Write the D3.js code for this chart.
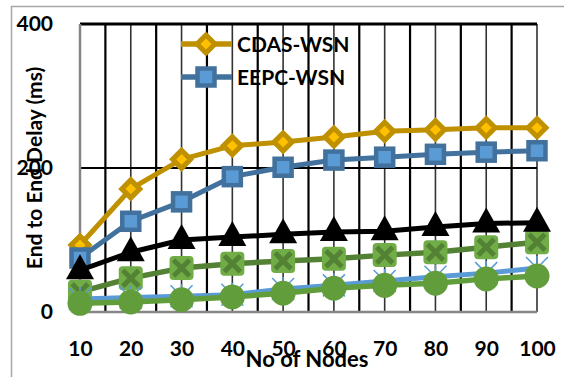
<!DOCTYPE html>
<html>
<head>
<meta charset="utf-8">
<script src="https://cdn.jsdelivr.net/npm/d3@7"></script>
<style>
    body { margin: 0; background: #fff; }
    text { font-family: Lato, "Open Sans", sans-serif; font-weight: bold; fill: #000; }
</style>
</head>
<body>
<div id="chart"></div>
<script>
const nodes = [10, 20, 30, 40, 50, 60, 70, 80, 90, 100];
const yTicks = [0, 200, 400];
const cdasWsn = [93, 171, 212, 231, 236, 243, 251, 253, 256, 256];
const eepcWsn = [75, 126, 153, 188, 201, 211, 215, 219, 222, 224];
const triangleSeries = [58, 83, 100, 104, 108, 111, 112, 118, 123, 124];
const crossSeries = [28, 47, 61, 67, 71, 74, 79, 83, 90, 97];
const starSeries = [18, 20, 22, 24, 32, 37, 43, 49, 54, 61];
const circleSeries = [12, 14, 17, 21, 26, 33, 37, 40, 46, 50];
const legendNames = ["CDAS-WSN", "EEPC-WSN"];

const W = 564, H = 377;
const margin = {top: 24, right: 27, bottom: 65, left: 80},
    width = W - margin.left - margin.right,
    height = H - margin.top - margin.bottom;

const svg = d3.select("#chart").append("svg")
    .attr("width", W)
    .attr("height", H);

// outer chart border (runs off the picture on the right and bottom)
svg.append("rect")
    .attr("x", 11.5).attr("y", 6.5)
    .attr("width", 600).attr("height", 400)
    .attr("fill", "none")
    .attr("stroke", "#a6a6a6")
    .attr("stroke-width", 1.5);

const g = svg.append("g")
    .attr("transform", "translate(" + margin.left + "," + margin.top + ")");

const x = d3.scaleLinear()
    .domain([10, 100])
    .range([0, width]);

const y = d3.scaleLinear()
    .domain([0, 400])
    .range([height, 0]);

// vertical grid, every 5 nodes
const gridX = d3.range(15, 101, 5);
g.selectAll(".vgrid")
    .data(gridX)
    .join("line")
    .attr("class", "vgrid")
    .attr("x1", d => x(d)).attr("x2", d => x(d))
    .attr("y1", 0).attr("y2", height)
    .attr("stroke", d => d % 10 === 0 ? "#333" : "#000")
    .attr("stroke-width", d => d % 10 === 0 ? 1.6 : 2.2);

// horizontal grid
g.selectAll(".hgrid")
    .data(yTicks.filter(d => d > 0))
    .join("line")
    .attr("class", "hgrid")
    .attr("x1", 0).attr("x2", width)
    .attr("y1", d => y(d)).attr("y2", d => y(d))
    .attr("stroke", "#000")
    .attr("stroke-width", d => d === 400 ? 3 : 2);

// axes lines (gray)
g.append("line")
    .attr("x1", 0).attr("x2", 0)
    .attr("y1", y(400)).attr("y2", height)
    .attr("stroke", "#868686").attr("stroke-width", 2.5);
g.append("line")
    .attr("x1", 0).attr("x2", width)
    .attr("y1", height).attr("y2", height)
    .attr("stroke", "#868686").attr("stroke-width", 2.5);

// tick labels
const xAxis = g.append("g")
    .attr("transform", "translate(0," + height + ")")
    .call(d3.axisBottom(x).tickValues(nodes).tickSize(0).tickPadding(29));
xAxis.select(".domain").remove();
xAxis.selectAll("text")
    .attr("font-size", 21)
    .attr("font-family", null);

const yAxis = g.append("g")
    .call(d3.axisLeft(y).tickValues(yTicks).tickSize(0).tickPadding(27));
yAxis.select(".domain").remove();
yAxis.selectAll("text")
    .attr("font-size", 21)
    .attr("font-family", null);

// axis titles
svg.append("text")
    .attr("x", 307).attr("y", 367)
    .attr("text-anchor", "middle")
    .attr("font-size", 22)
    .text("No of Nodes");

svg.append("text")
    .attr("transform", "translate(42,168) rotate(-90)")
    .attr("text-anchor", "middle")
    .attr("font-size", 21)
    .text("End to End Delay (ms)");

// series
const line = d3.line()
    .x((d, i) => x(nodes[i]))
    .y(d => y(d));

const drawLine = (data, color, w) => {
    g.append("path")
        .datum(data)
        .attr("fill", "none")
        .attr("stroke", color)
        .attr("stroke-width", w)
        .attr("stroke-linejoin", "round")
        .attr("d", line);
};

const diamond = (sel, cx, cy) => {
    sel.append("path")
        .attr("d", `M${cx},${cy - 9} L${cx + 9},${cy} L${cx},${cy + 9} L${cx - 9},${cy} Z`)
        .attr("fill", "#ffc000")
        .attr("stroke", "#bf9000")
        .attr("stroke-width", 5);
};
const square = (sel, cx, cy) => {
    sel.append("rect")
        .attr("x", cx - 8.5).attr("y", cy - 8.5)
        .attr("width", 17).attr("height", 17)
        .attr("fill", "#5b9bd5")
        .attr("stroke", "#41719c")
        .attr("stroke-width", 4.5);
};
const triangle = (sel, cx, cy) => {
    sel.append("path")
        .attr("d", `M${cx},${cy - 16} L${cx + 14},${cy + 9} L${cx - 14},${cy + 9} Z`)
        .attr("fill", "#000");
};
const crossBox = (sel, cx, cy) => {
    sel.append("rect")
        .attr("x", cx - 12).attr("y", cy - 12)
        .attr("width", 24).attr("height", 24)
        .attr("rx", 4)
        .attr("fill", "#70ad47");
    sel.append("path")
        .attr("d", `M${cx - 8},${cy - 8} L${cx + 8},${cy + 8} M${cx + 8},${cy - 8} L${cx - 8},${cy + 8}`)
        .attr("stroke", "#548235")
        .attr("stroke-width", 5);
};
const star = (sel, cx, cy) => {
    sel.append("path")
        .attr("d", `M${cx - 11},${cy - 11} L${cx + 11},${cy + 11} M${cx + 11},${cy - 11} L${cx - 11},${cy + 11} M${cx},${cy - 12} L${cx},${cy + 12}`)
        .attr("stroke", "#5b9bd5")
        .attr("stroke-width", 1.5);
};
const circle = (sel, cx, cy) => {
    sel.append("circle")
        .attr("cx", cx).attr("cy", cy)
        .attr("r", 12.5)
        .attr("fill", "#629d3c");
};

const series = [
    {data: cdasWsn, color: "#bf9000", w: 5, mark: diamond},
    {data: eepcWsn, color: "#41719c", w: 5, mark: square},
    {data: crossSeries, color: "#548235", w: 5.5, mark: crossBox},
    {data: triangleSeries, color: "#000", w: 5, mark: triangle},
    {data: starSeries, color: "#5b9bd5", w: 5, mark: star},
    {data: circleSeries, color: "#629d3c", w: 5.5, mark: circle}
];

series.forEach(s => {
    drawLine(s.data, s.color, s.w);
    const mg = g.append("g");
    s.data.forEach((v, i) => s.mark(mg, x(nodes[i]), y(v)));
});

// legend, only the first two series are named
const legend = svg.append("g");
legendNames.forEach((name, i) => {
    const ly = 44 + i * 33;
    legend.append("line")
        .attr("x1", 181).attr("x2", 232)
        .attr("y1", ly).attr("y2", ly)
        .attr("stroke", series[i].color)
        .attr("stroke-width", 5.5);
    series[i].mark(legend, 206, ly);
    legend.append("text")
        .attr("x", 237).attr("y", ly)
        .attr("dy", "0.36em")
        .attr("font-size", 21)
        .text(name);
});
</script>
</body>
</html>
